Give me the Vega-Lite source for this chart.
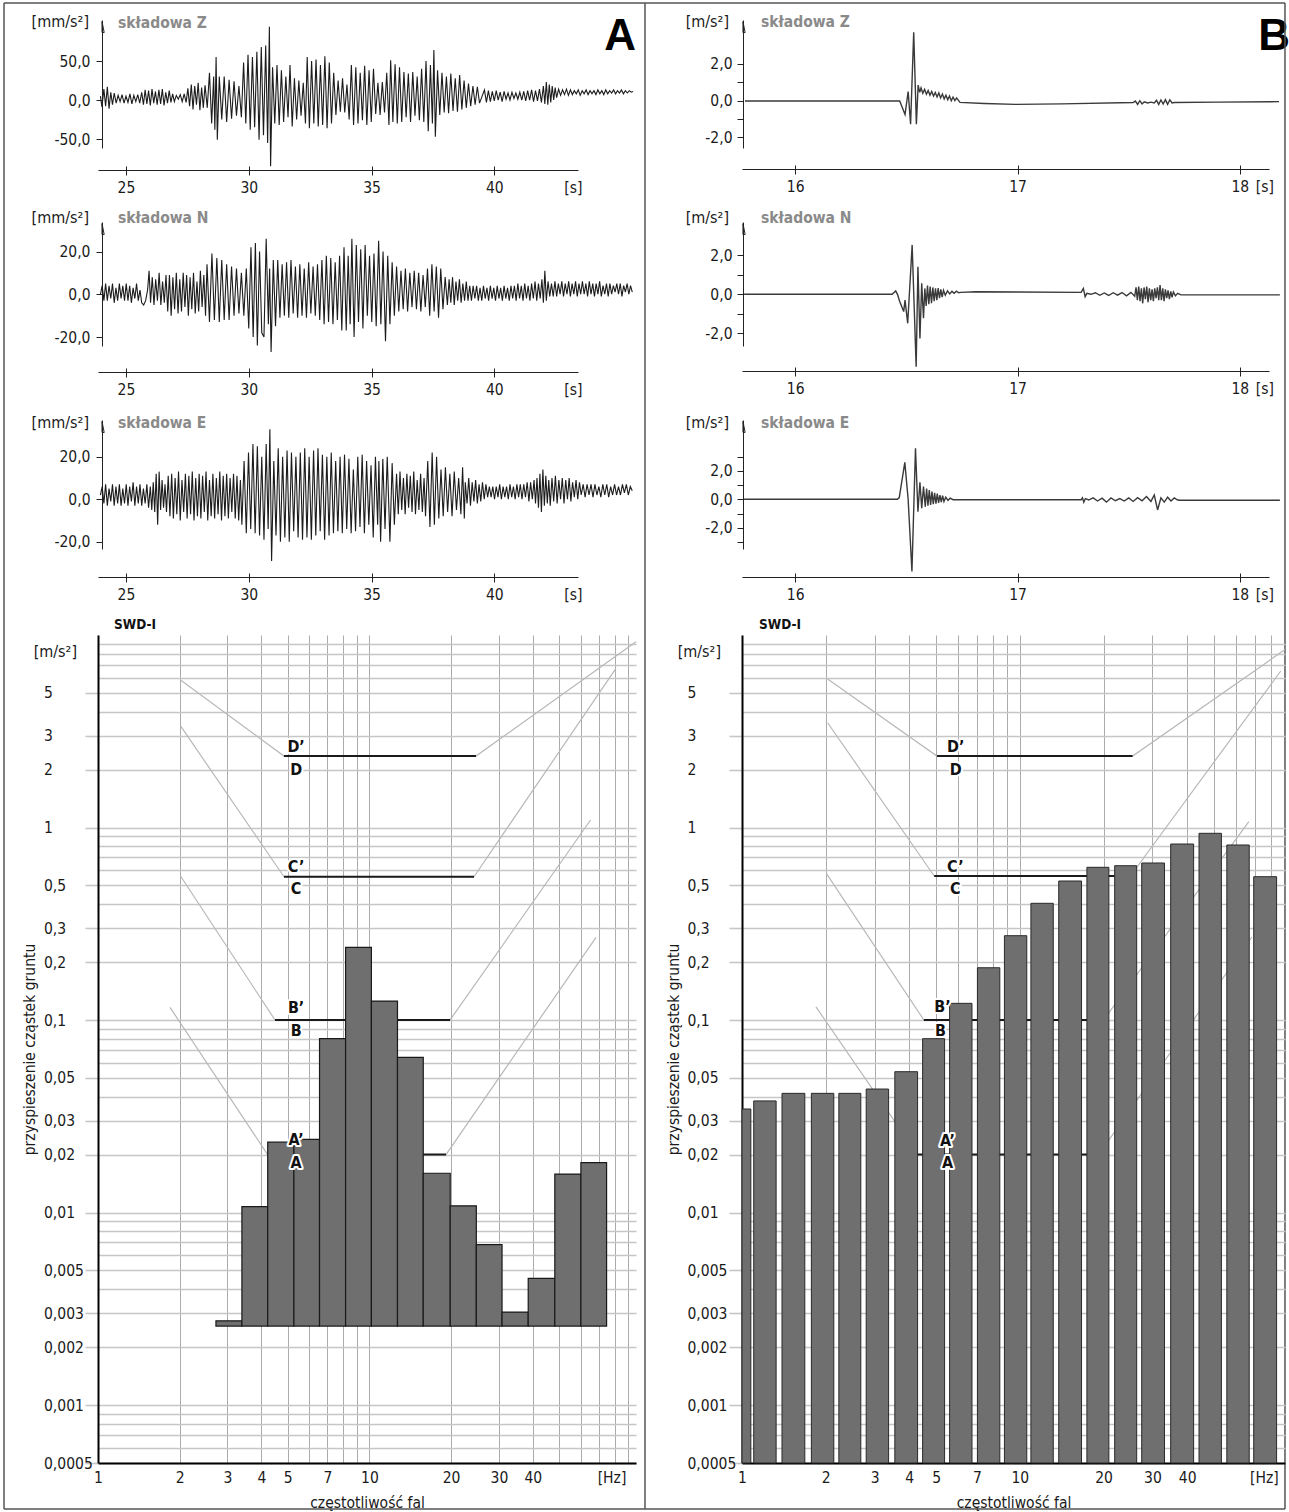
{
"$schema": "https://vega.github.io/schema/vega-lite/v6.json",
"autosize": {"type": "none"},
"padding": {"left": 98, "top": 20, "right": 1191, "bottom": 1492},
"background": "white",
"config": {
  "view": {"stroke": null},
  "font": "Liberation Sans Narrow, DejaVu Sans Condensed, sans-serif",
  "text": {"font": "Liberation Sans Narrow, DejaVu Sans Condensed, sans-serif"},
  "axis": {"labelFont": "Liberation Sans Narrow, DejaVu Sans Condensed, sans-serif", "titleFont": "Liberation Sans Narrow, DejaVu Sans Condensed, sans-serif", "labelFontSize": 15.5, "titleFontSize": 15.5, "labelColor": "#1a1a1a", "titleColor": "#1a1a1a", "titleFontWeight": "normal", "domainColor": "#222", "tickColor": "#222", "labelOverlap": false, "labelFlush": false, "labelBound": false, "grid": false}
},
"datasets": {
"az": [{"t":23.96,"v":5},{"t":24.02,"v":-9},{"t":24.1,"v":14},{"t":24.17,"v":-8},{"t":24.24,"v":17},{"t":24.31,"v":-11},{"t":24.38,"v":10},{"t":24.45,"v":-6},{"t":24.52,"v":9},{"t":24.6,"v":-4},{"t":24.68,"v":6},{"t":24.76,"v":-2},{"t":24.84,"v":7},{"t":24.92,"v":-4},{"t":25.0,"v":5},{"t":25.08,"v":-3},{"t":25.16,"v":8},{"t":25.24,"v":-5},{"t":25.32,"v":6},{"t":25.4,"v":-2},{"t":25.48,"v":7},{"t":25.56,"v":-4},{"t":25.64,"v":10},{"t":25.71,"v":-6},{"t":25.78,"v":13},{"t":25.85,"v":-5},{"t":25.92,"v":12},{"t":25.99,"v":-7},{"t":26.06,"v":14},{"t":26.13,"v":-4},{"t":26.2,"v":11},{"t":26.27,"v":-6},{"t":26.34,"v":13},{"t":26.41,"v":-5},{"t":26.48,"v":14},{"t":26.55,"v":-7},{"t":26.62,"v":10},{"t":26.69,"v":-4},{"t":26.76,"v":12},{"t":26.83,"v":-3},{"t":26.9,"v":8},{"t":26.97,"v":-2},{"t":27.05,"v":6},{"t":27.13,"v":1},{"t":27.21,"v":7},{"t":27.29,"v":-2},{"t":27.37,"v":8},{"t":27.45,"v":-3},{"t":27.52,"v":15},{"t":27.59,"v":-8},{"t":27.66,"v":20},{"t":27.73,"v":-12},{"t":27.8,"v":18},{"t":27.87,"v":-6},{"t":27.94,"v":22},{"t":28.01,"v":-13},{"t":28.08,"v":16},{"t":28.15,"v":-10},{"t":28.22,"v":19},{"t":28.31,"v":-10},{"t":28.4,"v":35},{"t":28.49,"v":-30},{"t":28.57,"v":30},{"t":28.62,"v":-38},{"t":28.67,"v":55},{"t":28.72,"v":-51},{"t":28.8,"v":30},{"t":28.9,"v":-25},{"t":29.0,"v":30},{"t":29.1,"v":-28},{"t":29.2,"v":26},{"t":29.3,"v":-24},{"t":29.4,"v":24},{"t":29.5,"v":-20},{"t":29.6,"v":18},{"t":29.7,"v":-22},{"t":29.79,"v":48},{"t":29.88,"v":-30},{"t":29.97,"v":58},{"t":30.06,"v":-38},{"t":30.15,"v":55},{"t":30.24,"v":-35},{"t":30.33,"v":62},{"t":30.42,"v":-51},{"t":30.51,"v":68},{"t":30.6,"v":-45},{"t":30.69,"v":70},{"t":30.77,"v":-55},{"t":30.84,"v":94},{"t":30.89,"v":-85},{"t":30.97,"v":42},{"t":31.06,"v":-30},{"t":31.15,"v":45},{"t":31.24,"v":-32},{"t":31.33,"v":38},{"t":31.42,"v":-28},{"t":31.51,"v":30},{"t":31.6,"v":-22},{"t":31.68,"v":45},{"t":31.77,"v":-34},{"t":31.86,"v":28},{"t":31.95,"v":-25},{"t":32.04,"v":25},{"t":32.13,"v":-20},{"t":32.22,"v":22},{"t":32.31,"v":-30},{"t":32.38,"v":55},{"t":32.47,"v":-36},{"t":32.56,"v":50},{"t":32.65,"v":-30},{"t":32.74,"v":52},{"t":32.83,"v":-34},{"t":32.92,"v":45},{"t":33.01,"v":-32},{"t":33.1,"v":56},{"t":33.19,"v":-36},{"t":33.28,"v":48},{"t":33.37,"v":-30},{"t":33.46,"v":35},{"t":33.55,"v":-19},{"t":33.64,"v":25},{"t":33.73,"v":-15},{"t":33.82,"v":28},{"t":33.91,"v":-16},{"t":34.0,"v":20},{"t":34.09,"v":-25},{"t":34.18,"v":45},{"t":34.27,"v":-32},{"t":34.36,"v":42},{"t":34.45,"v":-30},{"t":34.54,"v":35},{"t":34.63,"v":-26},{"t":34.72,"v":44},{"t":34.81,"v":-32},{"t":34.9,"v":38},{"t":34.99,"v":-28},{"t":35.08,"v":40},{"t":35.17,"v":-18},{"t":35.26,"v":22},{"t":35.35,"v":-19},{"t":35.44,"v":23},{"t":35.53,"v":-16},{"t":35.62,"v":35},{"t":35.71,"v":-32},{"t":35.78,"v":51},{"t":35.87,"v":-28},{"t":35.96,"v":46},{"t":36.05,"v":-30},{"t":36.14,"v":42},{"t":36.23,"v":-28},{"t":36.32,"v":36},{"t":36.41,"v":-22},{"t":36.5,"v":34},{"t":36.59,"v":-28},{"t":36.68,"v":36},{"t":36.77,"v":-20},{"t":36.86,"v":30},{"t":36.95,"v":-26},{"t":37.04,"v":40},{"t":37.13,"v":-28},{"t":37.22,"v":50},{"t":37.31,"v":-40},{"t":37.4,"v":45},{"t":37.48,"v":-30},{"t":37.54,"v":64},{"t":37.6,"v":-47},{"t":37.69,"v":38},{"t":37.78,"v":-19},{"t":37.87,"v":35},{"t":37.96,"v":-16},{"t":38.05,"v":30},{"t":38.14,"v":-17},{"t":38.23,"v":34},{"t":38.32,"v":-14},{"t":38.41,"v":28},{"t":38.5,"v":-15},{"t":38.59,"v":32},{"t":38.68,"v":-12},{"t":38.77,"v":25},{"t":38.86,"v":-10},{"t":38.95,"v":21},{"t":39.04,"v":-8},{"t":39.13,"v":18},{"t":39.22,"v":-6},{"t":39.31,"v":17},{"t":39.4,"v":-4},{"t":39.6,"v":13},{"t":39.68,"v":-3},{"t":39.76,"v":12},{"t":39.84,"v":-2},{"t":39.92,"v":11},{"t":40.0,"v":-1},{"t":40.08,"v":12},{"t":40.16,"v":0},{"t":40.24,"v":10},{"t":40.32,"v":-2},{"t":40.4,"v":11},{"t":40.48,"v":1},{"t":40.56,"v":9},{"t":40.64,"v":0},{"t":40.72,"v":10},{"t":40.8,"v":2},{"t":40.88,"v":9},{"t":40.96,"v":1},{"t":41.04,"v":10},{"t":41.12,"v":0},{"t":41.2,"v":11},{"t":41.28,"v":-1},{"t":41.36,"v":12},{"t":41.44,"v":0},{"t":41.52,"v":13},{"t":41.6,"v":-2},{"t":41.68,"v":12},{"t":41.76,"v":-1},{"t":41.84,"v":14},{"t":41.92,"v":-3},{"t":42.0,"v":18},{"t":42.06,"v":-5},{"t":42.12,"v":23},{"t":42.18,"v":-6},{"t":42.24,"v":20},{"t":42.3,"v":-3},{"t":42.36,"v":18},{"t":42.42,"v":0},{"t":42.48,"v":16},{"t":42.54,"v":3},{"t":42.62,"v":14},{"t":42.7,"v":6},{"t":42.78,"v":13},{"t":42.86,"v":7},{"t":42.94,"v":14},{"t":43.02,"v":6},{"t":43.1,"v":13},{"t":43.18,"v":7},{"t":43.26,"v":12},{"t":43.34,"v":8},{"t":43.42,"v":13},{"t":43.5,"v":6},{"t":43.58,"v":12},{"t":43.66,"v":8},{"t":43.74,"v":13},{"t":43.82,"v":7},{"t":43.9,"v":12},{"t":43.98,"v":8},{"t":44.06,"v":12},{"t":44.14,"v":7},{"t":44.22,"v":13},{"t":44.3,"v":8},{"t":44.38,"v":12},{"t":44.46,"v":7},{"t":44.54,"v":13},{"t":44.62,"v":8},{"t":44.7,"v":12},{"t":44.78,"v":9},{"t":44.86,"v":13},{"t":44.94,"v":8},{"t":45.02,"v":12},{"t":45.1,"v":9},{"t":45.18,"v":13},{"t":45.26,"v":8},{"t":45.34,"v":12},{"t":45.42,"v":9},{"t":45.5,"v":12},{"t":45.58,"v":10},{"t":45.65,"v":11}],
"an": [{"t":23.96,"v":0},{"t":24.03,"v":4},{"t":24.1,"v":-3},{"t":24.17,"v":5},{"t":24.24,"v":-3},{"t":24.31,"v":4},{"t":24.38,"v":-2},{"t":24.45,"v":5},{"t":24.52,"v":-4},{"t":24.59,"v":3},{"t":24.66,"v":-3},{"t":24.73,"v":5},{"t":24.8,"v":-2},{"t":24.87,"v":4},{"t":24.94,"v":-3},{"t":25.01,"v":5},{"t":25.08,"v":-3},{"t":25.15,"v":4},{"t":25.22,"v":-4},{"t":25.29,"v":3},{"t":25.36,"v":-2},{"t":25.43,"v":5},{"t":25.5,"v":-3},{"t":25.57,"v":2},{"t":25.64,"v":-4},{"t":25.72,"v":-5},{"t":25.8,"v":-3},{"t":25.88,"v":2},{"t":25.94,"v":11},{"t":26.0,"v":-4},{"t":26.07,"v":8},{"t":26.14,"v":-5},{"t":26.21,"v":7},{"t":26.28,"v":-3},{"t":26.35,"v":10},{"t":26.42,"v":-5},{"t":26.49,"v":6},{"t":26.56,"v":-4},{"t":26.63,"v":9},{"t":26.7,"v":-8},{"t":26.77,"v":9},{"t":26.84,"v":-10},{"t":26.91,"v":8},{"t":26.98,"v":-7},{"t":27.05,"v":10},{"t":27.12,"v":-9},{"t":27.19,"v":7},{"t":27.26,"v":-8},{"t":27.33,"v":10},{"t":27.4,"v":-6},{"t":27.47,"v":9},{"t":27.54,"v":-10},{"t":27.61,"v":8},{"t":27.68,"v":-7},{"t":27.75,"v":10},{"t":27.82,"v":-9},{"t":27.89,"v":6},{"t":27.96,"v":-8},{"t":28.03,"v":11},{"t":28.1,"v":-6},{"t":28.17,"v":9},{"t":28.24,"v":-10},{"t":28.3,"v":14},{"t":28.4,"v":-13},{"t":28.5,"v":19},{"t":28.6,"v":-12},{"t":28.7,"v":17},{"t":28.8,"v":-13},{"t":28.9,"v":16},{"t":29.0,"v":-12},{"t":29.1,"v":14},{"t":29.2,"v":-12},{"t":29.3,"v":13},{"t":29.4,"v":-10},{"t":29.5,"v":12},{"t":29.6,"v":-9},{"t":29.7,"v":10},{"t":29.8,"v":-10},{"t":29.9,"v":12},{"t":30.0,"v":-16},{"t":30.09,"v":22},{"t":30.18,"v":-20},{"t":30.27,"v":24},{"t":30.35,"v":-24},{"t":30.44,"v":20},{"t":30.53,"v":-18},{"t":30.62,"v":-20},{"t":30.71,"v":26},{"t":30.8,"v":-14},{"t":30.85,"v":12},{"t":30.91,"v":-27},{"t":31.0,"v":16},{"t":31.09,"v":-15},{"t":31.18,"v":16},{"t":31.27,"v":-11},{"t":31.36,"v":14},{"t":31.45,"v":-10},{"t":31.54,"v":15},{"t":31.63,"v":-11},{"t":31.72,"v":16},{"t":31.81,"v":-9},{"t":31.9,"v":13},{"t":31.99,"v":-11},{"t":32.08,"v":14},{"t":32.17,"v":-10},{"t":32.26,"v":12},{"t":32.35,"v":-11},{"t":32.44,"v":15},{"t":32.53,"v":-9},{"t":32.62,"v":13},{"t":32.71,"v":-10},{"t":32.8,"v":14},{"t":32.89,"v":-12},{"t":32.98,"v":16},{"t":33.07,"v":-14},{"t":33.16,"v":18},{"t":33.25,"v":-13},{"t":33.34,"v":17},{"t":33.43,"v":-14},{"t":33.52,"v":15},{"t":33.61,"v":-12},{"t":33.7,"v":18},{"t":33.79,"v":-17},{"t":33.88,"v":22},{"t":33.97,"v":-17},{"t":34.05,"v":18},{"t":34.13,"v":-14},{"t":34.2,"v":26},{"t":34.29,"v":-20},{"t":34.38,"v":23},{"t":34.47,"v":-13},{"t":34.56,"v":21},{"t":34.65,"v":-16},{"t":34.74,"v":23},{"t":34.83,"v":-10},{"t":34.92,"v":18},{"t":35.01,"v":-13},{"t":35.1,"v":19},{"t":35.19,"v":-15},{"t":35.29,"v":25},{"t":35.38,"v":-14},{"t":35.47,"v":20},{"t":35.57,"v":-22},{"t":35.66,"v":18},{"t":35.75,"v":-14},{"t":35.84,"v":15},{"t":35.93,"v":-10},{"t":36.02,"v":13},{"t":36.11,"v":-8},{"t":36.2,"v":11},{"t":36.29,"v":-7},{"t":36.38,"v":12},{"t":36.47,"v":-8},{"t":36.56,"v":10},{"t":36.65,"v":-6},{"t":36.74,"v":11},{"t":36.83,"v":-7},{"t":36.92,"v":10},{"t":37.01,"v":-8},{"t":37.1,"v":9},{"t":37.19,"v":-6},{"t":37.28,"v":12},{"t":37.37,"v":-10},{"t":37.46,"v":14},{"t":37.55,"v":-8},{"t":37.64,"v":13},{"t":37.73,"v":-11},{"t":37.82,"v":12},{"t":37.91,"v":-7},{"t":38.0,"v":8},{"t":38.09,"v":-5},{"t":38.16,"v":7},{"t":38.23,"v":-4},{"t":38.3,"v":8},{"t":38.37,"v":-5},{"t":38.44,"v":6},{"t":38.51,"v":-3},{"t":38.58,"v":7},{"t":38.65,"v":-4},{"t":38.72,"v":5},{"t":38.79,"v":-3},{"t":38.86,"v":6},{"t":38.93,"v":-3},{"t":39.0,"v":4},{"t":39.07,"v":-3},{"t":39.14,"v":4},{"t":39.21,"v":-2},{"t":39.28,"v":4},{"t":39.35,"v":-3},{"t":39.42,"v":3},{"t":39.49,"v":-3},{"t":39.56,"v":4},{"t":39.63,"v":-2},{"t":39.7,"v":3},{"t":39.77,"v":-3},{"t":39.84,"v":4},{"t":39.91,"v":-2},{"t":39.98,"v":3},{"t":40.05,"v":-3},{"t":40.12,"v":4},{"t":40.19,"v":-2},{"t":40.26,"v":3},{"t":40.33,"v":-3},{"t":40.4,"v":4},{"t":40.47,"v":-2},{"t":40.54,"v":3},{"t":40.61,"v":-3},{"t":40.68,"v":4},{"t":40.75,"v":-2},{"t":40.82,"v":4},{"t":40.89,"v":-3},{"t":40.96,"v":5},{"t":41.03,"v":-2},{"t":41.1,"v":4},{"t":41.17,"v":-3},{"t":41.24,"v":5},{"t":41.31,"v":-2},{"t":41.38,"v":4},{"t":41.45,"v":-3},{"t":41.52,"v":5},{"t":41.59,"v":-2},{"t":41.66,"v":6},{"t":41.73,"v":-3},{"t":41.8,"v":5},{"t":41.87,"v":-2},{"t":41.94,"v":7},{"t":42.0,"v":-4},{"t":42.06,"v":11},{"t":42.12,"v":-3},{"t":42.19,"v":6},{"t":42.26,"v":-1},{"t":42.33,"v":5},{"t":42.4,"v":-1},{"t":42.47,"v":6},{"t":42.54,"v":-1},{"t":42.61,"v":5},{"t":42.68,"v":0},{"t":42.75,"v":6},{"t":42.82,"v":-1},{"t":42.89,"v":5},{"t":42.96,"v":0},{"t":43.03,"v":6},{"t":43.1,"v":-1},{"t":43.17,"v":5},{"t":43.24,"v":0},{"t":43.31,"v":6},{"t":43.38,"v":-1},{"t":43.45,"v":5},{"t":43.52,"v":0},{"t":43.59,"v":6},{"t":43.66,"v":0},{"t":43.73,"v":5},{"t":43.8,"v":-1},{"t":43.87,"v":6},{"t":43.94,"v":0},{"t":44.01,"v":5},{"t":44.08,"v":-1},{"t":44.15,"v":5},{"t":44.22,"v":0},{"t":44.29,"v":6},{"t":44.36,"v":-1},{"t":44.43,"v":4},{"t":44.5,"v":0},{"t":44.57,"v":5},{"t":44.64,"v":-1},{"t":44.71,"v":5},{"t":44.78,"v":0},{"t":44.85,"v":4},{"t":44.92,"v":1},{"t":44.99,"v":5},{"t":45.06,"v":0},{"t":45.13,"v":5},{"t":45.2,"v":-1},{"t":45.27,"v":4},{"t":45.34,"v":1},{"t":45.41,"v":5},{"t":45.48,"v":0},{"t":45.55,"v":4},{"t":45.62,"v":1}],
"ae": [{"t":23.96,"v":2},{"t":24.03,"v":6},{"t":24.1,"v":-2},{"t":24.17,"v":7},{"t":24.24,"v":-3},{"t":24.31,"v":5},{"t":24.38,"v":-1},{"t":24.45,"v":7},{"t":24.52,"v":-3},{"t":24.59,"v":6},{"t":24.66,"v":-2},{"t":24.73,"v":7},{"t":24.8,"v":-3},{"t":24.87,"v":5},{"t":24.94,"v":-2},{"t":25.01,"v":7},{"t":25.08,"v":-3},{"t":25.15,"v":6},{"t":25.22,"v":-1},{"t":25.29,"v":8},{"t":25.36,"v":-3},{"t":25.43,"v":6},{"t":25.5,"v":-2},{"t":25.57,"v":7},{"t":25.64,"v":-3},{"t":25.71,"v":5},{"t":25.78,"v":-2},{"t":25.85,"v":7},{"t":25.92,"v":-4},{"t":25.99,"v":6},{"t":26.05,"v":-5},{"t":26.11,"v":8},{"t":26.17,"v":-6},{"t":26.23,"v":12},{"t":26.29,"v":-12},{"t":26.35,"v":13},{"t":26.41,"v":-5},{"t":26.47,"v":9},{"t":26.53,"v":-4},{"t":26.59,"v":7},{"t":26.65,"v":-6},{"t":26.72,"v":11},{"t":26.79,"v":-8},{"t":26.86,"v":12},{"t":26.93,"v":-9},{"t":27.0,"v":10},{"t":27.07,"v":-7},{"t":27.14,"v":13},{"t":27.21,"v":-10},{"t":27.28,"v":9},{"t":27.35,"v":-6},{"t":27.42,"v":12},{"t":27.49,"v":-9},{"t":27.56,"v":11},{"t":27.63,"v":-7},{"t":27.7,"v":13},{"t":27.77,"v":-10},{"t":27.84,"v":10},{"t":27.91,"v":-8},{"t":27.98,"v":12},{"t":28.05,"v":-9},{"t":28.12,"v":11},{"t":28.19,"v":-6},{"t":28.26,"v":13},{"t":28.33,"v":-10},{"t":28.4,"v":9},{"t":28.47,"v":-8},{"t":28.54,"v":12},{"t":28.61,"v":-9},{"t":28.68,"v":10},{"t":28.75,"v":-7},{"t":28.82,"v":13},{"t":28.89,"v":-10},{"t":28.96,"v":11},{"t":29.03,"v":-8},{"t":29.1,"v":12},{"t":29.17,"v":-9},{"t":29.24,"v":10},{"t":29.31,"v":-6},{"t":29.38,"v":12},{"t":29.45,"v":-9},{"t":29.52,"v":11},{"t":29.59,"v":-10},{"t":29.66,"v":9},{"t":29.72,"v":-12},{"t":29.81,"v":18},{"t":29.9,"v":-16},{"t":29.99,"v":22},{"t":30.08,"v":-14},{"t":30.17,"v":26},{"t":30.26,"v":-16},{"t":30.35,"v":25},{"t":30.44,"v":-17},{"t":30.53,"v":20},{"t":30.62,"v":-19},{"t":30.71,"v":26},{"t":30.79,"v":-14},{"t":30.86,"v":33},{"t":30.93,"v":-29},{"t":31.02,"v":18},{"t":31.11,"v":-17},{"t":31.2,"v":24},{"t":31.29,"v":-20},{"t":31.38,"v":20},{"t":31.47,"v":-18},{"t":31.56,"v":23},{"t":31.65,"v":-20},{"t":31.74,"v":22},{"t":31.83,"v":-15},{"t":31.92,"v":20},{"t":32.01,"v":-18},{"t":32.1,"v":22},{"t":32.19,"v":-19},{"t":32.28,"v":24},{"t":32.37,"v":-18},{"t":32.46,"v":20},{"t":32.55,"v":-19},{"t":32.64,"v":23},{"t":32.73,"v":-17},{"t":32.82,"v":24},{"t":32.91,"v":-15},{"t":33.0,"v":21},{"t":33.09,"v":-19},{"t":33.18,"v":20},{"t":33.27,"v":-17},{"t":33.36,"v":22},{"t":33.45,"v":-16},{"t":33.54,"v":18},{"t":33.63,"v":-15},{"t":33.72,"v":20},{"t":33.81,"v":-16},{"t":33.9,"v":21},{"t":33.99,"v":-14},{"t":34.08,"v":19},{"t":34.17,"v":-16},{"t":34.26,"v":14},{"t":34.35,"v":-15},{"t":34.44,"v":20},{"t":34.53,"v":-13},{"t":34.62,"v":21},{"t":34.71,"v":-16},{"t":34.8,"v":18},{"t":34.89,"v":-12},{"t":34.98,"v":16},{"t":35.07,"v":-18},{"t":35.16,"v":20},{"t":35.25,"v":-12},{"t":35.3,"v":18},{"t":35.37,"v":-20},{"t":35.46,"v":19},{"t":35.55,"v":-14},{"t":35.64,"v":20},{"t":35.75,"v":-20},{"t":35.84,"v":17},{"t":35.93,"v":-12},{"t":36.02,"v":12},{"t":36.09,"v":-7},{"t":36.16,"v":13},{"t":36.23,"v":-5},{"t":36.3,"v":10},{"t":36.37,"v":-7},{"t":36.44,"v":12},{"t":36.51,"v":-4},{"t":36.58,"v":11},{"t":36.65,"v":-6},{"t":36.72,"v":13},{"t":36.79,"v":-7},{"t":36.86,"v":9},{"t":36.93,"v":-5},{"t":37.0,"v":12},{"t":37.07,"v":-6},{"t":37.14,"v":10},{"t":37.2,"v":-8},{"t":37.29,"v":18},{"t":37.38,"v":-13},{"t":37.47,"v":22},{"t":37.56,"v":-12},{"t":37.65,"v":20},{"t":37.74,"v":-9},{"t":37.83,"v":14},{"t":37.92,"v":-8},{"t":38.01,"v":15},{"t":38.1,"v":-6},{"t":38.19,"v":12},{"t":38.28,"v":-8},{"t":38.37,"v":13},{"t":38.46,"v":-5},{"t":38.55,"v":10},{"t":38.64,"v":-7},{"t":38.71,"v":15},{"t":38.78,"v":-9},{"t":38.82,"v":8},{"t":38.89,"v":-2},{"t":38.96,"v":10},{"t":39.03,"v":-3},{"t":39.1,"v":8},{"t":39.17,"v":-1},{"t":39.24,"v":9},{"t":39.31,"v":-2},{"t":39.38,"v":7},{"t":39.45,"v":-1},{"t":39.52,"v":8},{"t":39.59,"v":0},{"t":39.66,"v":7},{"t":39.73,"v":1},{"t":39.8,"v":6},{"t":39.87,"v":1},{"t":39.94,"v":6},{"t":40.01,"v":0},{"t":40.08,"v":6},{"t":40.15,"v":1},{"t":40.22,"v":7},{"t":40.29,"v":0},{"t":40.36,"v":6},{"t":40.43,"v":1},{"t":40.5,"v":6},{"t":40.57,"v":0},{"t":40.64,"v":7},{"t":40.71,"v":1},{"t":40.78,"v":6},{"t":40.85,"v":0},{"t":40.92,"v":7},{"t":40.99,"v":1},{"t":41.06,"v":7},{"t":41.13,"v":0},{"t":41.2,"v":7},{"t":41.27,"v":1},{"t":41.34,"v":8},{"t":41.41,"v":-1},{"t":41.48,"v":8},{"t":41.55,"v":0},{"t":41.62,"v":9},{"t":41.68,"v":-2},{"t":41.74,"v":10},{"t":41.8,"v":-4},{"t":41.86,"v":12},{"t":41.92,"v":-6},{"t":41.98,"v":14},{"t":42.04,"v":-3},{"t":42.1,"v":11},{"t":42.16,"v":-2},{"t":42.22,"v":9},{"t":42.28,"v":-3},{"t":42.35,"v":10},{"t":42.42,"v":-1},{"t":42.49,"v":11},{"t":42.56,"v":-2},{"t":42.63,"v":9},{"t":42.7,"v":0},{"t":42.77,"v":10},{"t":42.84,"v":-2},{"t":42.91,"v":9},{"t":42.98,"v":0},{"t":43.05,"v":10},{"t":43.12,"v":-1},{"t":43.19,"v":8},{"t":43.26,"v":1},{"t":43.33,"v":9},{"t":43.4,"v":0},{"t":43.47,"v":8},{"t":43.54,"v":2},{"t":43.62,"v":7},{"t":43.7,"v":1},{"t":43.78,"v":7},{"t":43.86,"v":2},{"t":43.94,"v":7},{"t":44.02,"v":1},{"t":44.1,"v":7},{"t":44.18,"v":2},{"t":44.26,"v":6},{"t":44.34,"v":1},{"t":44.42,"v":7},{"t":44.5,"v":2},{"t":44.58,"v":7},{"t":44.66,"v":1},{"t":44.74,"v":6},{"t":44.82,"v":2},{"t":44.9,"v":7},{"t":44.98,"v":2},{"t":45.06,"v":6},{"t":45.14,"v":2},{"t":45.22,"v":7},{"t":45.3,"v":3},{"t":45.38,"v":7},{"t":45.46,"v":2},{"t":45.54,"v":6},{"t":45.62,"v":4}],
"bz": [{"t":15.774,"v":-0.02},{"t":16.47,"v":-0.02},{"t":16.494,"v":-0.75},{"t":16.508,"v":0.5},{"t":16.519,"v":-1.28},{"t":16.533,"v":3.72},{"t":16.545,"v":-1.28},{"t":16.553,"v":0.85},{"t":16.56,"v":0.45},{"t":16.566,"v":0.7},{"t":16.574,"v":0.4},{"t":16.582,"v":0.62},{"t":16.59,"v":0.35},{"t":16.598,"v":0.55},{"t":16.606,"v":0.3},{"t":16.614,"v":0.5},{"t":16.622,"v":0.25},{"t":16.63,"v":0.45},{"t":16.638,"v":0.2},{"t":16.646,"v":0.42},{"t":16.654,"v":0.15},{"t":16.662,"v":0.36},{"t":16.67,"v":0.1},{"t":16.678,"v":0.3},{"t":16.686,"v":0.05},{"t":16.694,"v":0.25},{"t":16.702,"v":0.0},{"t":16.71,"v":0.2},{"t":16.718,"v":0.0},{"t":16.726,"v":0.15},{"t":16.741,"v":-0.09},{"t":16.85,"v":-0.15},{"t":16.99,"v":-0.2},{"t":17.2,"v":-0.17},{"t":17.52,"v":-0.1},{"t":17.53,"v":-0.02},{"t":17.54,"v":-0.2},{"t":17.55,"v":0.0},{"t":17.56,"v":-0.18},{"t":17.57,"v":-0.06},{"t":17.585,"v":-0.12},{"t":17.6,"v":-0.08},{"t":17.615,"v":-0.12},{"t":17.625,"v":0.02},{"t":17.635,"v":-0.2},{"t":17.645,"v":0.04},{"t":17.655,"v":-0.18},{"t":17.665,"v":0.06},{"t":17.675,"v":-0.2},{"t":17.685,"v":0.05},{"t":17.695,"v":-0.12},{"t":17.705,"v":-0.1},{"t":17.9,"v":-0.08},{"t":18.176,"v":-0.05}],
"bn": [{"t":15.77,"v":0},{"t":16.436,"v":0},{"t":16.452,"v":0.17},{"t":16.46,"v":0},{"t":16.47,"v":-0.37},{"t":16.488,"v":-0.88},{"t":16.494,"v":-0.3},{"t":16.506,"v":-1.48},{"t":16.526,"v":2.52},{"t":16.533,"v":0.1},{"t":16.544,"v":-3.69},{"t":16.552,"v":1.41},{"t":16.561,"v":-2.25},{"t":16.569,"v":0.56},{"t":16.577,"v":-1.22},{"t":16.583,"v":0.3},{"t":16.589,"v":-0.6},{"t":16.595,"v":0.45},{"t":16.601,"v":-0.5},{"t":16.607,"v":0.4},{"t":16.613,"v":-0.45},{"t":16.619,"v":0.35},{"t":16.625,"v":-0.35},{"t":16.631,"v":0.3},{"t":16.637,"v":-0.3},{"t":16.643,"v":0.32},{"t":16.649,"v":-0.2},{"t":16.655,"v":0.25},{"t":16.661,"v":-0.15},{"t":16.667,"v":0.2},{"t":16.675,"v":-0.05},{"t":16.685,"v":0.18},{"t":16.695,"v":0.02},{"t":16.705,"v":0.15},{"t":16.715,"v":0.05},{"t":16.725,"v":0.16},{"t":16.735,"v":0.08},{"t":16.745,"v":0.1},{"t":16.813,"v":0.13},{"t":17.286,"v":0.1},{"t":17.296,"v":0.3},{"t":17.304,"v":-0.12},{"t":17.312,"v":0.05},{"t":17.33,"v":0.0},{"t":17.35,"v":0.08},{"t":17.37,"v":-0.05},{"t":17.39,"v":0.07},{"t":17.41,"v":-0.06},{"t":17.43,"v":0.08},{"t":17.45,"v":-0.04},{"t":17.47,"v":0.09},{"t":17.49,"v":-0.08},{"t":17.51,"v":0.1},{"t":17.527,"v":-0.1},{"t":17.533,"v":0.35},{"t":17.539,"v":-0.3},{"t":17.545,"v":0.4},{"t":17.551,"v":-0.35},{"t":17.557,"v":0.3},{"t":17.563,"v":-0.46},{"t":17.569,"v":0.35},{"t":17.575,"v":-0.25},{"t":17.581,"v":0.4},{"t":17.587,"v":-0.4},{"t":17.593,"v":0.3},{"t":17.599,"v":-0.3},{"t":17.605,"v":0.25},{"t":17.611,"v":-0.35},{"t":17.617,"v":0.3},{"t":17.623,"v":-0.2},{"t":17.629,"v":0.35},{"t":17.635,"v":-0.3},{"t":17.641,"v":0.47},{"t":17.647,"v":-0.3},{"t":17.653,"v":0.3},{"t":17.659,"v":-0.35},{"t":17.665,"v":0.25},{"t":17.671,"v":-0.2},{"t":17.677,"v":0.2},{"t":17.683,"v":-0.25},{"t":17.689,"v":0.15},{"t":17.695,"v":-0.15},{"t":17.701,"v":0.12},{"t":17.71,"v":-0.08},{"t":17.72,"v":0.05},{"t":17.735,"v":-0.03},{"t":18.18,"v":-0.03}],
"be": [{"t":15.77,"v":0},{"t":16.46,"v":0},{"t":16.468,"v":0.12},{"t":16.493,"v":2.6},{"t":16.508,"v":0},{"t":16.525,"v":-5.09},{"t":16.541,"v":3.59},{"t":16.552,"v":-0.87},{"t":16.561,"v":1.2},{"t":16.569,"v":-0.63},{"t":16.577,"v":0.89},{"t":16.585,"v":-0.52},{"t":16.591,"v":0.75},{"t":16.597,"v":-0.45},{"t":16.603,"v":0.65},{"t":16.609,"v":-0.4},{"t":16.615,"v":0.55},{"t":16.621,"v":-0.35},{"t":16.627,"v":0.45},{"t":16.633,"v":-0.3},{"t":16.639,"v":0.4},{"t":16.645,"v":-0.25},{"t":16.651,"v":0.3},{"t":16.657,"v":-0.2},{"t":16.663,"v":0.25},{"t":16.669,"v":-0.15},{"t":16.677,"v":0.15},{"t":16.687,"v":-0.08},{"t":16.697,"v":0.08},{"t":16.71,"v":-0.03},{"t":16.773,"v":-0.03},{"t":17.286,"v":-0.03},{"t":17.292,"v":0.1},{"t":17.298,"v":-0.2},{"t":17.305,"v":0.05},{"t":17.32,"v":-0.05},{"t":17.34,"v":0.1},{"t":17.36,"v":-0.12},{"t":17.38,"v":0.08},{"t":17.4,"v":-0.2},{"t":17.42,"v":0.1},{"t":17.44,"v":-0.1},{"t":17.46,"v":0.05},{"t":17.48,"v":-0.12},{"t":17.5,"v":0.1},{"t":17.52,"v":-0.15},{"t":17.54,"v":0.12},{"t":17.56,"v":-0.1},{"t":17.58,"v":0.2},{"t":17.6,"v":-0.15},{"t":17.615,"v":0.3},{"t":17.63,"v":-0.75},{"t":17.645,"v":0.1},{"t":17.66,"v":-0.2},{"t":17.675,"v":0.15},{"t":17.69,"v":-0.12},{"t":17.705,"v":0.1},{"t":17.72,"v":-0.05},{"t":17.73,"v":-0.07},{"t":18.18,"v":-0.07}],
"barsA": [{"lo":2.72,"hi":3.39,"base":0.002573,"val":0.00274},{"lo":3.39,"hi":4.22,"base":0.002573,"val":0.01072},{"lo":4.22,"hi":5.27,"base":0.002573,"val":0.0232},{"lo":5.27,"hi":6.55,"base":0.002573,"val":0.024},{"lo":6.55,"hi":8.17,"base":0.002573,"val":0.08},{"lo":8.17,"hi":10.17,"base":0.002573,"val":0.2385},{"lo":10.17,"hi":12.69,"base":0.002573,"val":0.1255},{"lo":12.69,"hi":15.79,"base":0.002573,"val":0.064},{"lo":15.79,"hi":19.85,"base":0.002573,"val":0.016},{"lo":19.85,"hi":24.77,"base":0.002573,"val":0.01084},{"lo":24.77,"hi":30.81,"base":0.002573,"val":0.00681},{"lo":30.81,"hi":38.47,"base":0.002573,"val":0.00304},{"lo":38.47,"hi":48.21,"base":0.002573,"val":0.00455},{"lo":48.21,"hi":60.15,"base":0.002573,"val":0.01585},{"lo":60.15,"hi":74.8,"base":0.002573,"val":0.01815}],
"barsB": [{"lo":1,"hi":1.076,"base":0.0005,"val":0.0345},{"lo":1.102,"hi":1.327,"base":0.0005,"val":0.038},{"lo":1.393,"hi":1.683,"base":0.0005,"val":0.0416},{"lo":1.777,"hi":2.14,"base":0.0005,"val":0.0416},{"lo":2.231,"hi":2.677,"base":0.0005,"val":0.0416},{"lo":2.799,"hi":3.37,"base":0.0005,"val":0.0438},{"lo":3.548,"hi":4.285,"base":0.0005,"val":0.0539},{"lo":4.467,"hi":5.359,"base":0.0005,"val":0.08},{"lo":5.587,"hi":6.726,"base":0.0005,"val":0.1221},{"lo":7.035,"hi":8.47,"base":0.0005,"val":0.1869},{"lo":8.8,"hi":10.59,"base":0.0005,"val":0.2742},{"lo":10.96,"hi":13.19,"base":0.0005,"val":0.4039},{"lo":13.8,"hi":16.67,"base":0.0005,"val":0.5274},{"lo":17.43,"hi":20.91,"base":0.0005,"val":0.6213},{"lo":21.94,"hi":26.33,"base":0.0005,"val":0.6333},{"lo":27.45,"hi":33.16,"base":0.0005,"val":0.6542},{"lo":34.9,"hi":42.21,"base":0.0005,"val":0.8209},{"lo":44.13,"hi":53.13,"base":0.0005,"val":0.933},{"lo":55.57,"hi":66.91,"base":0.0005,"val":0.8113},{"lo":69.44,"hi":83.95,"base":0.0005,"val":0.5553}],
"critA": [{"g":"D","f":2.014,"v":5.84},{"g":"D","f":4.845,"v":2.35},{"g":"D","f":24.7,"v":2.35},{"g":"D","f":96,"v":9.23},{"g":"C","f":2.014,"v":3.37},{"g":"C","f":4.845,"v":0.555},{"g":"C","f":24.29,"v":0.555},{"g":"C","f":81,"v":6.71},{"g":"B","f":2.014,"v":0.56},{"g":"B","f":4.49,"v":0.1},{"g":"B","f":19.82,"v":0.1},{"g":"B","f":65.3,"v":1.094},{"g":"A","f":1.842,"v":0.1164},{"g":"A","f":4.217,"v":0.02},{"g":"A","f":19.15,"v":0.02},{"g":"A","f":68.4,"v":0.269}],
"critB": [{"g":"D","f":2.033,"v":5.91},{"g":"D","f":5.03,"v":2.35},{"g":"D","f":25.45,"v":2.35},{"g":"D","f":90,"v":8.4},{"g":"C","f":2.033,"v":3.5},{"g":"C","f":4.918,"v":0.56},{"g":"C","f":25,"v":0.56},{"g":"C","f":86.9,"v":6.5},{"g":"B","f":2.011,"v":0.578},{"g":"B","f":4.514,"v":0.1},{"g":"B","f":20,"v":0.1},{"g":"B","f":66.7,"v":1.072},{"g":"A","f":1.846,"v":0.117},{"g":"A","f":4.285,"v":0.02},{"g":"A","f":19.2,"v":0.02},{"g":"A","f":68.4,"v":0.27}],
"hA": [{"f1":4.845,"f2":24.7,"v":2.35},{"f1":4.845,"f2":24.29,"v":0.555},{"f1":4.49,"f2":19.82,"v":0.1},{"f1":4.217,"f2":19.15,"v":0.02}],
"hB": [{"f1":5.03,"f2":25.45,"v":2.35},{"f1":4.918,"f2":25,"v":0.56},{"f1":4.514,"f2":20,"v":0.1},{"f1":4.285,"f2":19.2,"v":0.02}],
"labsA": [{"lab":"D’","f":5.37,"v":2.63},{"lab":"D","f":5.37,"v":1.99},{"lab":"C’","f":5.37,"v":0.626},{"lab":"C","f":5.37,"v":0.479},{"lab":"B’","f":5.37,"v":0.1154},{"lab":"B","f":5.37,"v":0.0877},{"lab":"A’","f":5.37,"v":0.0238},{"lab":"A","f":5.37,"v":0.018}],
"labsB": [{"lab":"D’","f":5.88,"v":2.63},{"lab":"D","f":5.88,"v":1.99},{"lab":"C’","f":5.86,"v":0.626},{"lab":"C","f":5.86,"v":0.479},{"lab":"B’","f":5.27,"v":0.1163},{"lab":"B","f":5.18,"v":0.0877},{"lab":"A’","f":5.49,"v":0.0236},{"lab":"A","f":5.49,"v":0.01815}]
},
"bounds": "flush",
"align": "each",
"columns": 2,
"spacing": {"row": 30, "column": 106},
"concat": [
{
 "width": 480, "height": 128,
 "resolve": {"axis": {"x": "independent", "y": "independent"}},
 "layer": [
  {"data": {"name": "az"}, "mark": {"type": "line", "stroke": "#1c1c1c", "strokeWidth": 1.1},
   "encoding": {
    "x": {"field": "t", "type": "quantitative", "scale": {"domain": [23.86, 43.41], "nice": false, "zero": false}, "axis": {"orient": "bottom", "offset": 22, "values": [25, 30, 35, 40, 43.2], "labelExpr": "datum.value > 43 ? '[s]' : toString(datum.value)", "tickSize": 5, "tickOpacity": {"condition": {"test": "datum.value > 43", "value": 0}, "value": 1}, "labelPadding": 5, "title": null}},
    "y": {"field": "v", "type": "quantitative", "scale": {"domain": [-61.5, 102.6], "nice": false, "zero": false}, "axis": {"orient": "left", "offset": -4, "values": [-50, 0, 50], "labelExpr": "(datum.value < 0 ? '-' : '') + replace(format(abs(datum.value), '.1f'), '.', ',')", "tickSize": 6, "labelPadding": 6, "title": null}}}},
  {"data": {"values": [{"lab": "składowa Z"}]}, "mark": {"type": "text", "align": "left", "baseline": "middle", "dx": 20, "dy": 3, "fontSize": 15.5, "fontWeight": "bold", "fill": "#8a8a8a"},
   "encoding": {
    "x": {"datum": 23.86, "type": "quantitative", "scale": {"domain": [23.86, 43.41], "nice": false, "zero": false}, "axis": {"orient": "bottom", "offset": 22, "values": [25, 30, 35, 40], "tickSize": -4, "labels": false, "domain": false, "title": null}},
    "y": {"datum": 102.6, "type": "quantitative", "scale": {"domain": [-61.5, 102.6], "nice": false, "zero": false}, "axis": null},
    "text": {"field": "lab"}}},
  {"data": {"values": [{"lab": "[mm/s²]"}]}, "mark": {"type": "text", "align": "right", "baseline": "middle", "dx": -9, "dy": 2, "fontSize": 16, "fill": "#1a1a1a"},
   "encoding": {
    "x": {"datum": 23.86, "type": "quantitative", "scale": {"domain": [23.86, 43.41], "nice": false, "zero": false}, "axis": null},
    "y": {"datum": 102.6, "type": "quantitative", "scale": {"domain": [-61.5, 102.6], "nice": false, "zero": false}, "axis": null},
    "text": {"field": "lab"}}},
  {"data": {"values": [{}]}, "mark": {"type": "point", "shape": "M0,-1L0.4,1L0,1Z", "size": 121, "filled": false, "stroke": "#222", "strokeWidth": 1, "opacity": 1},
   "encoding": {
    "x": {"datum": 24.023, "type": "quantitative", "scale": {"domain": [23.86, 43.41], "nice": false, "zero": false}, "axis": null},
    "y": {"datum": 93.6, "type": "quantitative", "scale": {"domain": [-61.5, 102.6], "nice": false, "zero": false}, "axis": null}}},
  {"data": {"values": [{"lab": "A"}]}, "mark": {"type": "text", "align": "center", "baseline": "middle", "fontSize": 44, "fontWeight": 900, "font": "Liberation Sans, Arial, sans-serif", "fill": "#000"},
   "encoding": {
    "x": {"datum": 45.13, "type": "quantitative", "scale": {"domain": [23.86, 43.41], "nice": false, "zero": false}, "axis": null},
    "y": {"datum": 80.8, "type": "quantitative", "scale": {"domain": [-61.5, 102.6], "nice": false, "zero": false}, "axis": null},
    "text": {"field": "lab"}}}
 ]
},
{
 "width": 527, "height": 128,
 "resolve": {"axis": {"x": "independent", "y": "independent"}},
 "layer": [
  {"data": {"name": "bz"}, "mark": {"type": "line", "stroke": "#3a3a3a", "strokeWidth": 1.4},
   "encoding": {
    "x": {"field": "t", "type": "quantitative", "scale": {"domain": [15.7607, 18.131], "nice": false, "zero": false}, "axis": {"orient": "bottom", "offset": 21, "values": [16, 17, 18, 18.11], "labelExpr": "datum.value > 18.05 ? '[s]' : toString(datum.value)", "tickSize": 5, "tickOpacity": {"condition": {"test": "datum.value > 18.05", "value": 0}, "value": 1}, "labelPadding": 5, "title": null}},
    "y": {"field": "v", "type": "quantitative", "scale": {"domain": [-2.571, 4.386], "nice": false, "zero": false}, "axis": {"orient": "left", "offset": -1, "values": [-2, -1, 0, 1, 2], "labelExpr": "datum.value % 2 == 0 ? (datum.value < 0 ? '-' : '') + replace(format(abs(datum.value), '.1f'), '.', ',') : ''", "tickSize": 6, "labelPadding": 5, "title": null}}}},
  {"data": {"values": [{"lab": "składowa Z"}]}, "mark": {"type": "text", "align": "left", "baseline": "middle", "dx": 19, "dy": 2, "fontSize": 15.5, "fontWeight": "bold", "fill": "#8a8a8a"},
   "encoding": {
    "x": {"datum": 15.7607, "type": "quantitative", "scale": {"domain": [15.7607, 18.131], "nice": false, "zero": false}, "axis": {"orient": "bottom", "offset": 21, "values": [16, 17, 18], "tickSize": -4, "labels": false, "domain": false, "title": null}},
    "y": {"datum": 4.386, "type": "quantitative", "scale": {"domain": [-2.571, 4.386], "nice": false, "zero": false}, "axis": null},
    "text": {"field": "lab"}}},
  {"data": {"values": [{"lab": "[m/s²]"}]}, "mark": {"type": "text", "align": "right", "baseline": "middle", "dx": -13, "dy": 2, "fontSize": 16, "fill": "#1a1a1a"},
   "encoding": {
    "x": {"datum": 15.7607, "type": "quantitative", "scale": {"domain": [15.7607, 18.131], "nice": false, "zero": false}, "axis": null},
    "y": {"datum": 4.386, "type": "quantitative", "scale": {"domain": [-2.571, 4.386], "nice": false, "zero": false}, "axis": null},
    "text": {"field": "lab"}}},
  {"data": {"values": [{}]}, "mark": {"type": "point", "shape": "M0,-1L0.4,1L0,1Z", "size": 121, "filled": false, "stroke": "#222", "strokeWidth": 1, "opacity": 1},
   "encoding": {
    "x": {"datum": 15.765, "type": "quantitative", "scale": {"domain": [15.7607, 18.131], "nice": false, "zero": false}, "axis": null},
    "y": {"datum": 4.0, "type": "quantitative", "scale": {"domain": [-2.571, 4.386], "nice": false, "zero": false}, "axis": null}}},
  {"data": {"values": [{"lab": "B"}]}, "mark": {"type": "text", "align": "center", "baseline": "middle", "fontSize": 44, "fontWeight": 900, "font": "Liberation Sans, Arial, sans-serif", "fill": "#000"},
   "encoding": {
    "x": {"datum": 18.154, "type": "quantitative", "scale": {"domain": [15.7607, 18.131], "nice": false, "zero": false}, "axis": null},
    "y": {"datum": 3.46, "type": "quantitative", "scale": {"domain": [-2.571, 4.386], "nice": false, "zero": false}, "axis": null},
    "text": {"field": "lab"}}}
 ]
},
{"width": 10, "height": 14, "data": {"values": [{"a": 1}]}, "mark": {"type": "point", "opacity": 0}, "encoding": {}},
{"width": 10, "height": 14, "data": {"values": [{"a": 1}]}, "mark": {"type": "point", "opacity": 0}, "encoding": {}},
{
 "width": 480, "height": 124,
 "resolve": {"axis": {"x": "independent", "y": "independent"}},
 "layer": [
  {"data": {"name": "an"}, "mark": {"type": "line", "stroke": "#1c1c1c", "strokeWidth": 1.1},
   "encoding": {
    "x": {"field": "t", "type": "quantitative", "scale": {"domain": [23.86, 43.41], "nice": false, "zero": false}, "axis": {"orient": "bottom", "offset": 26, "values": [25, 30, 35, 40, 43.2], "labelExpr": "datum.value > 43 ? '[s]' : toString(datum.value)", "tickSize": 5, "tickOpacity": {"condition": {"test": "datum.value > 43", "value": 0}, "value": 1}, "labelPadding": 5, "title": null}},
    "y": {"field": "v", "type": "quantitative", "scale": {"domain": [-24.2, 33.8], "nice": false, "zero": false}, "axis": {"orient": "left", "offset": -4, "values": [-20, 0, 20], "labelExpr": "(datum.value < 0 ? '-' : '') + replace(format(abs(datum.value), '.1f'), '.', ',')", "tickSize": 6, "labelPadding": 6, "title": null}}}},
  {"data": {"values": [{"lab": "składowa N"}]}, "mark": {"type": "text", "align": "left", "baseline": "middle", "dx": 20, "dy": -4, "fontSize": 15.5, "fontWeight": "bold", "fill": "#8a8a8a"},
   "encoding": {
    "x": {"datum": 23.86, "type": "quantitative", "scale": {"domain": [23.86, 43.41], "nice": false, "zero": false}, "axis": {"orient": "bottom", "offset": 26, "values": [25, 30, 35, 40], "tickSize": -4, "labels": false, "domain": false, "title": null}},
    "y": {"datum": 33.8, "type": "quantitative", "scale": {"domain": [-24.2, 33.8], "nice": false, "zero": false}, "axis": null},
    "text": {"field": "lab"}}},
  {"data": {"values": [{"lab": "[mm/s²]"}]}, "mark": {"type": "text", "align": "right", "baseline": "middle", "dx": -9, "dy": -4, "fontSize": 16, "fill": "#1a1a1a"},
   "encoding": {
    "x": {"datum": 23.86, "type": "quantitative", "scale": {"domain": [23.86, 43.41], "nice": false, "zero": false}, "axis": null},
    "y": {"datum": 33.8, "type": "quantitative", "scale": {"domain": [-24.2, 33.8], "nice": false, "zero": false}, "axis": null},
    "text": {"field": "lab"}}},
  {"data": {"values": [{}]}, "mark": {"type": "point", "shape": "M0,-1L0.4,1L0,1Z", "size": 121, "filled": false, "stroke": "#222", "strokeWidth": 1, "opacity": 1},
   "encoding": {
    "x": {"datum": 24.023, "type": "quantitative", "scale": {"domain": [23.86, 43.41], "nice": false, "zero": false}, "axis": null},
    "y": {"datum": 30.5, "type": "quantitative", "scale": {"domain": [-24.2, 33.8], "nice": false, "zero": false}, "axis": null}}}
 ]
},
{
 "width": 527, "height": 124,
 "resolve": {"axis": {"x": "independent", "y": "independent"}},
 "layer": [
  {"data": {"name": "bn"}, "mark": {"type": "line", "stroke": "#3a3a3a", "strokeWidth": 1.4},
   "encoding": {
    "x": {"field": "t", "type": "quantitative", "scale": {"domain": [15.7607, 18.131], "nice": false, "zero": false}, "axis": {"orient": "bottom", "offset": 25, "values": [16, 17, 18, 18.11], "labelExpr": "datum.value > 18.05 ? '[s]' : toString(datum.value)", "tickSize": 5, "tickOpacity": {"condition": {"test": "datum.value > 18.05", "value": 0}, "value": 1}, "labelPadding": 5, "title": null}},
    "y": {"field": "v", "type": "quantitative", "scale": {"domain": [-2.638, 3.689], "nice": false, "zero": false}, "axis": {"orient": "left", "offset": -1, "values": [-2, -1, 0, 1, 2], "labelExpr": "datum.value % 2 == 0 ? (datum.value < 0 ? '-' : '') + replace(format(abs(datum.value), '.1f'), '.', ',') : ''", "tickSize": 6, "labelPadding": 5, "title": null}}}},
  {"data": {"values": [{"lab": "składowa N"}]}, "mark": {"type": "text", "align": "left", "baseline": "middle", "dx": 19, "dy": -4, "fontSize": 15.5, "fontWeight": "bold", "fill": "#8a8a8a"},
   "encoding": {
    "x": {"datum": 15.7607, "type": "quantitative", "scale": {"domain": [15.7607, 18.131], "nice": false, "zero": false}, "axis": {"orient": "bottom", "offset": 25, "values": [16, 17, 18], "tickSize": -4, "labels": false, "domain": false, "title": null}},
    "y": {"datum": 3.689, "type": "quantitative", "scale": {"domain": [-2.638, 3.689], "nice": false, "zero": false}, "axis": null},
    "text": {"field": "lab"}}},
  {"data": {"values": [{"lab": "[m/s²]"}]}, "mark": {"type": "text", "align": "right", "baseline": "middle", "dx": -13, "dy": -4, "fontSize": 16, "fill": "#1a1a1a"},
   "encoding": {
    "x": {"datum": 15.7607, "type": "quantitative", "scale": {"domain": [15.7607, 18.131], "nice": false, "zero": false}, "axis": null},
    "y": {"datum": 3.689, "type": "quantitative", "scale": {"domain": [-2.638, 3.689], "nice": false, "zero": false}, "axis": null},
    "text": {"field": "lab"}}},
  {"data": {"values": [{}]}, "mark": {"type": "point", "shape": "M0,-1L0.4,1L0,1Z", "size": 121, "filled": false, "stroke": "#222", "strokeWidth": 1, "opacity": 1},
   "encoding": {
    "x": {"datum": 15.765, "type": "quantitative", "scale": {"domain": [15.7607, 18.131], "nice": false, "zero": false}, "axis": null},
    "y": {"datum": 3.33, "type": "quantitative", "scale": {"domain": [-2.638, 3.689], "nice": false, "zero": false}, "axis": null}}}
 ]
},
{"width": 10, "height": 14, "data": {"values": [{"a": 1}]}, "mark": {"type": "point", "opacity": 0}, "encoding": {}},
{"width": 10, "height": 14, "data": {"values": [{"a": 1}]}, "mark": {"type": "point", "opacity": 0}, "encoding": {}},
{
 "width": 480, "height": 129,
 "resolve": {"axis": {"x": "independent", "y": "independent"}},
 "layer": [
  {"data": {"name": "ae"}, "mark": {"type": "line", "stroke": "#1c1c1c", "strokeWidth": 1.1},
   "encoding": {
    "x": {"field": "t", "type": "quantitative", "scale": {"domain": [23.86, 43.41], "nice": false, "zero": false}, "axis": {"orient": "bottom", "offset": 28, "values": [25, 30, 35, 40, 43.2], "labelExpr": "datum.value > 43 ? '[s]' : toString(datum.value)", "tickSize": 5, "tickOpacity": {"condition": {"test": "datum.value > 43", "value": 0}, "value": 1}, "labelPadding": 5, "title": null}},
    "y": {"field": "v", "type": "quantitative", "scale": {"domain": [-23.4, 37.3], "nice": false, "zero": false}, "axis": {"orient": "left", "offset": -4, "values": [-20, 0, 20], "labelExpr": "(datum.value < 0 ? '-' : '') + replace(format(abs(datum.value), '.1f'), '.', ',')", "tickSize": 6, "labelPadding": 6, "title": null}}}},
  {"data": {"values": [{"lab": "składowa E"}]}, "mark": {"type": "text", "align": "left", "baseline": "middle", "dx": 20, "dy": 3, "fontSize": 15.5, "fontWeight": "bold", "fill": "#8a8a8a"},
   "encoding": {
    "x": {"datum": 23.86, "type": "quantitative", "scale": {"domain": [23.86, 43.41], "nice": false, "zero": false}, "axis": {"orient": "bottom", "offset": 28, "values": [25, 30, 35, 40], "tickSize": -4, "labels": false, "domain": false, "title": null}},
    "y": {"datum": 37.3, "type": "quantitative", "scale": {"domain": [-23.4, 37.3], "nice": false, "zero": false}, "axis": null},
    "text": {"field": "lab"}}},
  {"data": {"values": [{"lab": "[mm/s²]"}]}, "mark": {"type": "text", "align": "right", "baseline": "middle", "dx": -9, "dy": 3, "fontSize": 16, "fill": "#1a1a1a"},
   "encoding": {
    "x": {"datum": 23.86, "type": "quantitative", "scale": {"domain": [23.86, 43.41], "nice": false, "zero": false}, "axis": null},
    "y": {"datum": 37.3, "type": "quantitative", "scale": {"domain": [-23.4, 37.3], "nice": false, "zero": false}, "axis": null},
    "text": {"field": "lab"}}},
  {"data": {"values": [{}]}, "mark": {"type": "point", "shape": "M0,-1L0.4,1L0,1Z", "size": 121, "filled": false, "stroke": "#222", "strokeWidth": 1, "opacity": 1},
   "encoding": {
    "x": {"datum": 24.023, "type": "quantitative", "scale": {"domain": [23.86, 43.41], "nice": false, "zero": false}, "axis": null},
    "y": {"datum": 34.0, "type": "quantitative", "scale": {"domain": [-23.4, 37.3], "nice": false, "zero": false}, "axis": null}}}
 ]
},
{
 "width": 527, "height": 129,
 "resolve": {"axis": {"x": "independent", "y": "independent"}},
 "layer": [
  {"data": {"name": "be"}, "mark": {"type": "line", "stroke": "#3a3a3a", "strokeWidth": 1.4},
   "encoding": {
    "x": {"field": "t", "type": "quantitative", "scale": {"domain": [15.7607, 18.131], "nice": false, "zero": false}, "axis": {"orient": "bottom", "offset": 28, "values": [16, 17, 18, 18.11], "labelExpr": "datum.value > 18.05 ? '[s]' : toString(datum.value)", "tickSize": 5, "tickOpacity": {"condition": {"test": "datum.value > 18.05", "value": 0}, "value": 1}, "labelPadding": 5, "title": null}},
    "y": {"field": "v", "type": "quantitative", "scale": {"domain": [-3.5, 5.585], "nice": false, "zero": false}, "axis": {"orient": "left", "offset": -1, "values": [-3, -2, -1, 0, 1, 2, 3], "labelExpr": "datum.value % 2 == 0 ? (datum.value < 0 ? '-' : '') + replace(format(abs(datum.value), '.1f'), '.', ',') : ''", "tickSize": 6, "labelPadding": 5, "title": null}}}},
  {"data": {"values": [{"lab": "składowa E"}]}, "mark": {"type": "text", "align": "left", "baseline": "middle", "dx": 19, "dy": 3, "fontSize": 15.5, "fontWeight": "bold", "fill": "#8a8a8a"},
   "encoding": {
    "x": {"datum": 15.7607, "type": "quantitative", "scale": {"domain": [15.7607, 18.131], "nice": false, "zero": false}, "axis": {"orient": "bottom", "offset": 28, "values": [16, 17, 18], "tickSize": -4, "labels": false, "domain": false, "title": null}},
    "y": {"datum": 5.585, "type": "quantitative", "scale": {"domain": [-3.5, 5.585], "nice": false, "zero": false}, "axis": null},
    "text": {"field": "lab"}}},
  {"data": {"values": [{"lab": "[m/s²]"}]}, "mark": {"type": "text", "align": "right", "baseline": "middle", "dx": -13, "dy": 3, "fontSize": 16, "fill": "#1a1a1a"},
   "encoding": {
    "x": {"datum": 15.7607, "type": "quantitative", "scale": {"domain": [15.7607, 18.131], "nice": false, "zero": false}, "axis": null},
    "y": {"datum": 5.585, "type": "quantitative", "scale": {"domain": [-3.5, 5.585], "nice": false, "zero": false}, "axis": null},
    "text": {"field": "lab"}}},
  {"data": {"values": [{}]}, "mark": {"type": "point", "shape": "M0,-1L0.4,1L0,1Z", "size": 121, "filled": false, "stroke": "#222", "strokeWidth": 1, "opacity": 1},
   "encoding": {
    "x": {"datum": 15.765, "type": "quantitative", "scale": {"domain": [15.7607, 18.131], "nice": false, "zero": false}, "axis": null},
    "y": {"datum": 5.1, "type": "quantitative", "scale": {"domain": [-3.5, 5.585], "nice": false, "zero": false}, "axis": null}}}
 ]
},
{"width": 10, "height": 26, "data": {"values": [{"a": 1}]}, "mark": {"type": "point", "opacity": 0}, "encoding": {}},
{"width": 10, "height": 26, "data": {"values": [{"a": 1}]}, "mark": {"type": "point", "opacity": 0}, "encoding": {}},
{
 "width": 538, "height": 828,
 "layer": [
  {"data": {"name": "critA"}, "mark": {"type": "line", "stroke": "#b8b8b8", "strokeWidth": 1.2},
   "encoding": {
    "x": {"field": "f", "type": "quantitative", "scale": {"type": "log", "domain": [1, 96], "nice": false},
      "axis": {"values": [1,2,3,4,5,6,7,8,9,10,20,30,40,50,60,70,78,80,90], "labelExpr": "datum.value == 78 ? '[Hz]' : (indexof([1,2,3,4,5,7,10,20,30,40], datum.value) >= 0 ? toString(datum.value) : '')", "ticks": false, "tickSize": 0, "grid": true, "gridColor": "#ababab", "gridWidth": 1, "gridOpacity": {"condition": {"test": "datum.value == 78", "value": 0}, "value": 1}, "domainColor": "#000", "domainWidth": 2, "labelPadding": 7, "title": "częstotliwość fal", "titleY": 39, "titleBaseline": "middle"}},
    "y": {"field": "v", "type": "quantitative", "scale": {"type": "log", "domain": [0.0005, 10], "nice": false},
      "axis": {"values": [0.0005,0.0006,0.0007,0.0008,0.0009,0.001,0.002,0.003,0.004,0.005,0.006,0.007,0.008,0.009,0.01,0.02,0.03,0.04,0.05,0.06,0.07,0.08,0.09,0.1,0.2,0.3,0.4,0.5,0.6,0.7,0.8,0.9,1,2,3,4,5,6,7,8,9], "labelExpr": "indexof([0.0005,0.001,0.002,0.003,0.005,0.01,0.02,0.03,0.05,0.1,0.2,0.3,0.5,1,2,3,5], datum.value) >= 0 ? replace(toString(datum.value), '.', ',') : ''", "tickSize": 13, "tickColor": "#c6c6c6", "tickWidth": 1.6, "tickOpacity": {"condition": {"test": "indexof([0.0005,0.001,0.002,0.003,0.005,0.01,0.02,0.03,0.05,0.1,0.2,0.3,0.5,1,2,3,5], datum.value) < 0", "value": 0}, "value": 1}, "grid": true, "gridColor": "#c6c6c6", "gridWidth": 1.6, "labelAlign": "left", "labelPadding": 41.5, "domainColor": "#000", "domainWidth": 2, "title": "przyspieszenie cząstek gruntu", "titleX": -69, "titleY": 414, "titleAngle": 270, "titleAlign": "center", "titleBaseline": "middle"}},
    "detail": {"field": "g"}}},
  {"data": {"name": "hA"}, "mark": {"type": "rule", "stroke": "#1a1a1a", "strokeWidth": 2},
   "encoding": {"x": {"field": "f1", "type": "quantitative", "scale": {"type": "log", "domain": [1, 96], "nice": false}}, "x2": {"field": "f2"}, "y": {"field": "v", "type": "quantitative", "scale": {"type": "log", "domain": [0.0005, 10], "nice": false}}}},
  {"data": {"name": "barsA"}, "mark": {"type": "rect", "fill": "#6f6f6f", "stroke": "#1a1a1a", "strokeWidth": 1.2},
   "encoding": {"x": {"field": "lo", "type": "quantitative", "scale": {"type": "log", "domain": [1, 96], "nice": false}}, "x2": {"field": "hi"}, "y": {"field": "base", "type": "quantitative", "scale": {"type": "log", "domain": [0.0005, 10], "nice": false}}, "y2": {"field": "val"}}},
  {"data": {"name": "labsA"}, "mark": {"type": "text", "fontSize": 16, "fontWeight": "bold", "fill": "white", "stroke": "white", "strokeWidth": 4, "strokeJoin": "round", "baseline": "middle"},
   "encoding": {"x": {"field": "f", "type": "quantitative", "scale": {"type": "log", "domain": [1, 96], "nice": false}}, "y": {"field": "v", "type": "quantitative", "scale": {"type": "log", "domain": [0.0005, 10], "nice": false}}, "text": {"field": "lab"}}},
  {"data": {"name": "labsA"}, "mark": {"type": "text", "fontSize": 16, "fontWeight": "bold", "fill": "#111", "baseline": "middle"},
   "encoding": {"x": {"field": "f", "type": "quantitative", "scale": {"type": "log", "domain": [1, 96], "nice": false}}, "y": {"field": "v", "type": "quantitative", "scale": {"type": "log", "domain": [0.0005, 10], "nice": false}}, "text": {"field": "lab"}}},
  {"data": {"values": [{"lab": "SWD-I"}]}, "mark": {"type": "text", "align": "left", "baseline": "middle", "dx": 16, "dy": -10, "fontSize": 13.5, "fontWeight": "bold", "fill": "#111"},
   "encoding": {"x": {"datum": 1, "type": "quantitative", "scale": {"type": "log", "domain": [1, 96], "nice": false}}, "y": {"datum": 10, "type": "quantitative", "scale": {"type": "log", "domain": [0.0005, 10], "nice": false}}, "text": {"field": "lab"}}},
  {"data": {"values": [{"lab": "[m/s²]"}]}, "mark": {"type": "text", "align": "right", "baseline": "middle", "dx": -21, "fontSize": 16, "fill": "#1a1a1a"},
   "encoding": {"x": {"datum": 1, "type": "quantitative", "scale": {"type": "log", "domain": [1, 96], "nice": false}}, "y": {"datum": 8.16, "type": "quantitative", "scale": {"type": "log", "domain": [0.0005, 10], "nice": false}}, "text": {"field": "lab"}}},
  {"data": {"values": [{}]}, "mark": {"type": "rule", "stroke": "#555", "strokeWidth": 1.5},
   "encoding": {"x": {"datum": 0.45048, "type": "quantitative", "scale": {"type": "log", "domain": [1, 96], "nice": false}}, "y": {"datum": 0.0002884, "type": "quantitative", "scale": {"type": "log", "domain": [0.0005, 10], "nice": false}}, "y2": {"datum": 19184}}},
  {"data": {"values": [{}]}, "mark": {"type": "rule", "stroke": "#555", "strokeWidth": 1.5},
   "encoding": {"x": {"datum": 103.61, "type": "quantitative", "scale": {"type": "log", "domain": [1, 96], "nice": false}}, "y": {"datum": 0.0002884, "type": "quantitative", "scale": {"type": "log", "domain": [0.0005, 10], "nice": false}}, "y2": {"datum": 19184}}},
  {"data": {"values": [{}]}, "mark": {"type": "rule", "stroke": "#555", "strokeWidth": 1.5},
   "encoding": {"x": {"datum": 23630, "type": "quantitative", "scale": {"type": "log", "domain": [1, 96], "nice": false}}, "y": {"datum": 0.0002884, "type": "quantitative", "scale": {"type": "log", "domain": [0.0005, 10], "nice": false}}, "y2": {"datum": 19184}}},
  {"data": {"values": [{}]}, "mark": {"type": "rule", "stroke": "#555", "strokeWidth": 1.5},
   "encoding": {"x": {"datum": 0.45048, "type": "quantitative", "scale": {"type": "log", "domain": [1, 96], "nice": false}}, "x2": {"datum": 23630}, "y": {"datum": 19184, "type": "quantitative", "scale": {"type": "log", "domain": [0.0005, 10], "nice": false}}}},
  {"data": {"values": [{}]}, "mark": {"type": "rule", "stroke": "#555", "strokeWidth": 1.5},
   "encoding": {"x": {"datum": 0.45048, "type": "quantitative", "scale": {"type": "log", "domain": [1, 96], "nice": false}}, "x2": {"datum": 23630}, "y": {"datum": 0.0002884, "type": "quantitative", "scale": {"type": "log", "domain": [0.0005, 10], "nice": false}}}}
 ]
},
{
 "width": 543, "height": 828,
 "layer": [
  {"data": {"name": "critB"}, "mark": {"type": "line", "stroke": "#b8b8b8", "strokeWidth": 1.2},
   "encoding": {
    "x": {"field": "f", "type": "quantitative", "scale": {"type": "log", "domain": [1, 90], "nice": false},
      "axis": {"values": [1,2,3,4,5,6,7,8,9,10,20,30,40,50,60,70,75.6,80], "labelExpr": "datum.value == 75.6 ? '[Hz]' : (indexof([1,2,3,4,5,7,10,20,30,40], datum.value) >= 0 ? toString(datum.value) : '')", "ticks": false, "tickSize": 0, "grid": true, "gridColor": "#ababab", "gridWidth": 1, "gridOpacity": {"condition": {"test": "datum.value == 75.6", "value": 0}, "value": 1}, "domainColor": "#000", "domainWidth": 2, "labelPadding": 7, "title": "częstotliwość fal", "titleY": 39, "titleBaseline": "middle"}},
    "y": {"field": "v", "type": "quantitative", "scale": {"type": "log", "domain": [0.0005, 10], "nice": false},
      "axis": {"values": [0.0005,0.0006,0.0007,0.0008,0.0009,0.001,0.002,0.003,0.004,0.005,0.006,0.007,0.008,0.009,0.01,0.02,0.03,0.04,0.05,0.06,0.07,0.08,0.09,0.1,0.2,0.3,0.4,0.5,0.6,0.7,0.8,0.9,1,2,3,4,5,6,7,8,9], "labelExpr": "indexof([0.0005,0.001,0.002,0.003,0.005,0.01,0.02,0.03,0.05,0.1,0.2,0.3,0.5,1,2,3,5], datum.value) >= 0 ? replace(toString(datum.value), '.', ',') : ''", "tickSize": 13, "tickColor": "#c6c6c6", "tickWidth": 1.6, "tickOpacity": {"condition": {"test": "indexof([0.0005,0.001,0.002,0.003,0.005,0.01,0.02,0.03,0.05,0.1,0.2,0.3,0.5,1,2,3,5], datum.value) < 0", "value": 0}, "value": 1}, "grid": true, "gridColor": "#c6c6c6", "gridWidth": 1.6, "labelAlign": "left", "labelPadding": 42, "domainColor": "#000", "domainWidth": 2, "title": "przyspieszenie cząstek gruntu", "titleX": -69, "titleY": 414, "titleAngle": 270, "titleAlign": "center", "titleBaseline": "middle"}},
    "detail": {"field": "g"}}},
  {"data": {"name": "hB"}, "mark": {"type": "rule", "stroke": "#1a1a1a", "strokeWidth": 2},
   "encoding": {"x": {"field": "f1", "type": "quantitative", "scale": {"type": "log", "domain": [1, 90], "nice": false}}, "x2": {"field": "f2"}, "y": {"field": "v", "type": "quantitative", "scale": {"type": "log", "domain": [0.0005, 10], "nice": false}}}},
  {"data": {"name": "barsB"}, "mark": {"type": "rect", "fill": "#6f6f6f", "stroke": "#2a2a2a", "strokeWidth": 1},
   "encoding": {"x": {"field": "lo", "type": "quantitative", "scale": {"type": "log", "domain": [1, 90], "nice": false}}, "x2": {"field": "hi"}, "y": {"field": "base", "type": "quantitative", "scale": {"type": "log", "domain": [0.0005, 10], "nice": false}}, "y2": {"field": "val"}}},
  {"data": {"name": "labsB"}, "mark": {"type": "text", "fontSize": 16, "fontWeight": "bold", "fill": "white", "stroke": "white", "strokeWidth": 4, "strokeJoin": "round", "baseline": "middle"},
   "encoding": {"x": {"field": "f", "type": "quantitative", "scale": {"type": "log", "domain": [1, 90], "nice": false}}, "y": {"field": "v", "type": "quantitative", "scale": {"type": "log", "domain": [0.0005, 10], "nice": false}}, "text": {"field": "lab"}}},
  {"data": {"name": "labsB"}, "mark": {"type": "text", "fontSize": 16, "fontWeight": "bold", "fill": "#111", "baseline": "middle"},
   "encoding": {"x": {"field": "f", "type": "quantitative", "scale": {"type": "log", "domain": [1, 90], "nice": false}}, "y": {"field": "v", "type": "quantitative", "scale": {"type": "log", "domain": [0.0005, 10], "nice": false}}, "text": {"field": "lab"}}},
  {"data": {"values": [{"lab": "SWD-I"}]}, "mark": {"type": "text", "align": "left", "baseline": "middle", "dx": 17, "dy": -10, "fontSize": 13.5, "fontWeight": "bold", "fill": "#111"},
   "encoding": {"x": {"datum": 1, "type": "quantitative", "scale": {"type": "log", "domain": [1, 90], "nice": false}}, "y": {"datum": 10, "type": "quantitative", "scale": {"type": "log", "domain": [0.0005, 10], "nice": false}}, "text": {"field": "lab"}}},
  {"data": {"values": [{"lab": "[m/s²]"}]}, "mark": {"type": "text", "align": "right", "baseline": "middle", "dx": -21, "fontSize": 16, "fill": "#1a1a1a"},
   "encoding": {"x": {"datum": 1, "type": "quantitative", "scale": {"type": "log", "domain": [1, 90], "nice": false}}, "y": {"datum": 8.16, "type": "quantitative", "scale": {"type": "log", "domain": [0.0005, 10], "nice": false}}, "text": {"field": "lab"}}}
 ]
}
]
}
